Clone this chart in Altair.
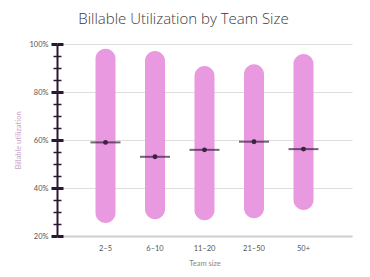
import altair as alt
import pandas as pd

teams = ["2–5", "6–10", "11–20", "21–50", "50+"]
low = [25.4, 27.0, 26.6, 27.4, 30.8]
high = [98.0, 97.1, 90.8, 91.6, 95.8]
mean = [59.0, 53.0, 55.9, 59.3, 56.2]
tick_values = [20, 25, 30, 35, 40, 45, 50, 55, 60, 65, 70, 75, 80, 85, 90, 95, 100]

df = pd.DataFrame({"team": teams, "low": low, "high": high, "mean": mean})

W, H = 295, 192
major = "datum.value % 20 === 0"
ink = "#2a1830"

x_enc = alt.X("team:N", sort=teams, title="Team size",
              scale=alt.Scale(paddingOuter=0.48, paddingInner=0.0),
              axis=alt.Axis(labelAngle=0, ticks=False, domainColor="#d0ccd0", domainWidth=2,
                            labelColor="#555555", labelFontSize=7.5, labelPadding=8,
                            titleColor="#888888", titleFontSize=7.5, titleFontWeight="normal",
                            titlePadding=8, labelFont="Lato", titleFont="Lato"))

y_scale = alt.Scale(domain=[20, 100], nice=False, zero=False)

bars = alt.Chart(df).mark_bar(size=20, cornerRadius=10, color="#e899df").encode(
    x=x_enc,
    y=alt.Y("low:Q", scale=y_scale, title="Billable utilization",
            axis=alt.Axis(values=tick_values,
                          labelExpr="datum.value % 20 === 0 ? datum.value + '%' : ''",
                          domainColor=ink, domainWidth=2,
                          tickColor=ink,
                          tickWidth={"condition": {"test": major, "value": 3}, "value": 1.5},
                          tickSize={"condition": {"test": major, "value": 6}, "value": 4},
                          gridColor="#dddddd",
                          gridOpacity={"condition": {"test": major, "value": 1}, "value": 0},
                          labelColor="#555555", labelFontSize=7.5, labelPadding=3,
                          labelFont="Lato",
                          titleColor="#c9a6c9", titleFontSize=7.5, titleFontWeight="normal",
                          titleFont="Lato", titlePadding=6)),
    y2="high:Q",
)

means_line = alt.Chart(df).mark_tick(size=30, thickness=2, color="#3b2142").encode(
    x=alt.X("team:N", sort=teams),
    y=alt.Y("mean:Q", scale=y_scale,
            axis=alt.Axis(orient="right", offset=-W, values=tick_values, labels=False,
                          domain=False, grid=False, title=None, tickColor=ink,
                          tickWidth={"condition": {"test": major, "value": 3}, "value": 1.5},
                          tickSize={"condition": {"test": major, "value": 6}, "value": 4})))
means_dot = alt.Chart(df).mark_point(filled=True, size=24, opacity=1, color="#3b2142").encode(
    x=alt.X("team:N", sort=teams), y=alt.Y("mean:Q", scale=y_scale, axis=None))

chart = alt.layer(bars, means_line, means_dot).resolve_axis(y="independent").properties(
    width=W, height=H,
    title=alt.TitleParams("Billable Utilization by Team Size", fontSize=15, font="Open Sans",
                          fontWeight=300, color="#3a3a3a", offset=13, frame="bounds"),
    autosize=alt.AutoSizeParams(type="none"),
    padding={"left": 57, "top": 44, "right": 18, "bottom": 41},
).configure_view(stroke=None).configure_axis(labelFontWeight="normal")

chart.save("out.html", embed_options={"renderer": "svg", "actions": False})
